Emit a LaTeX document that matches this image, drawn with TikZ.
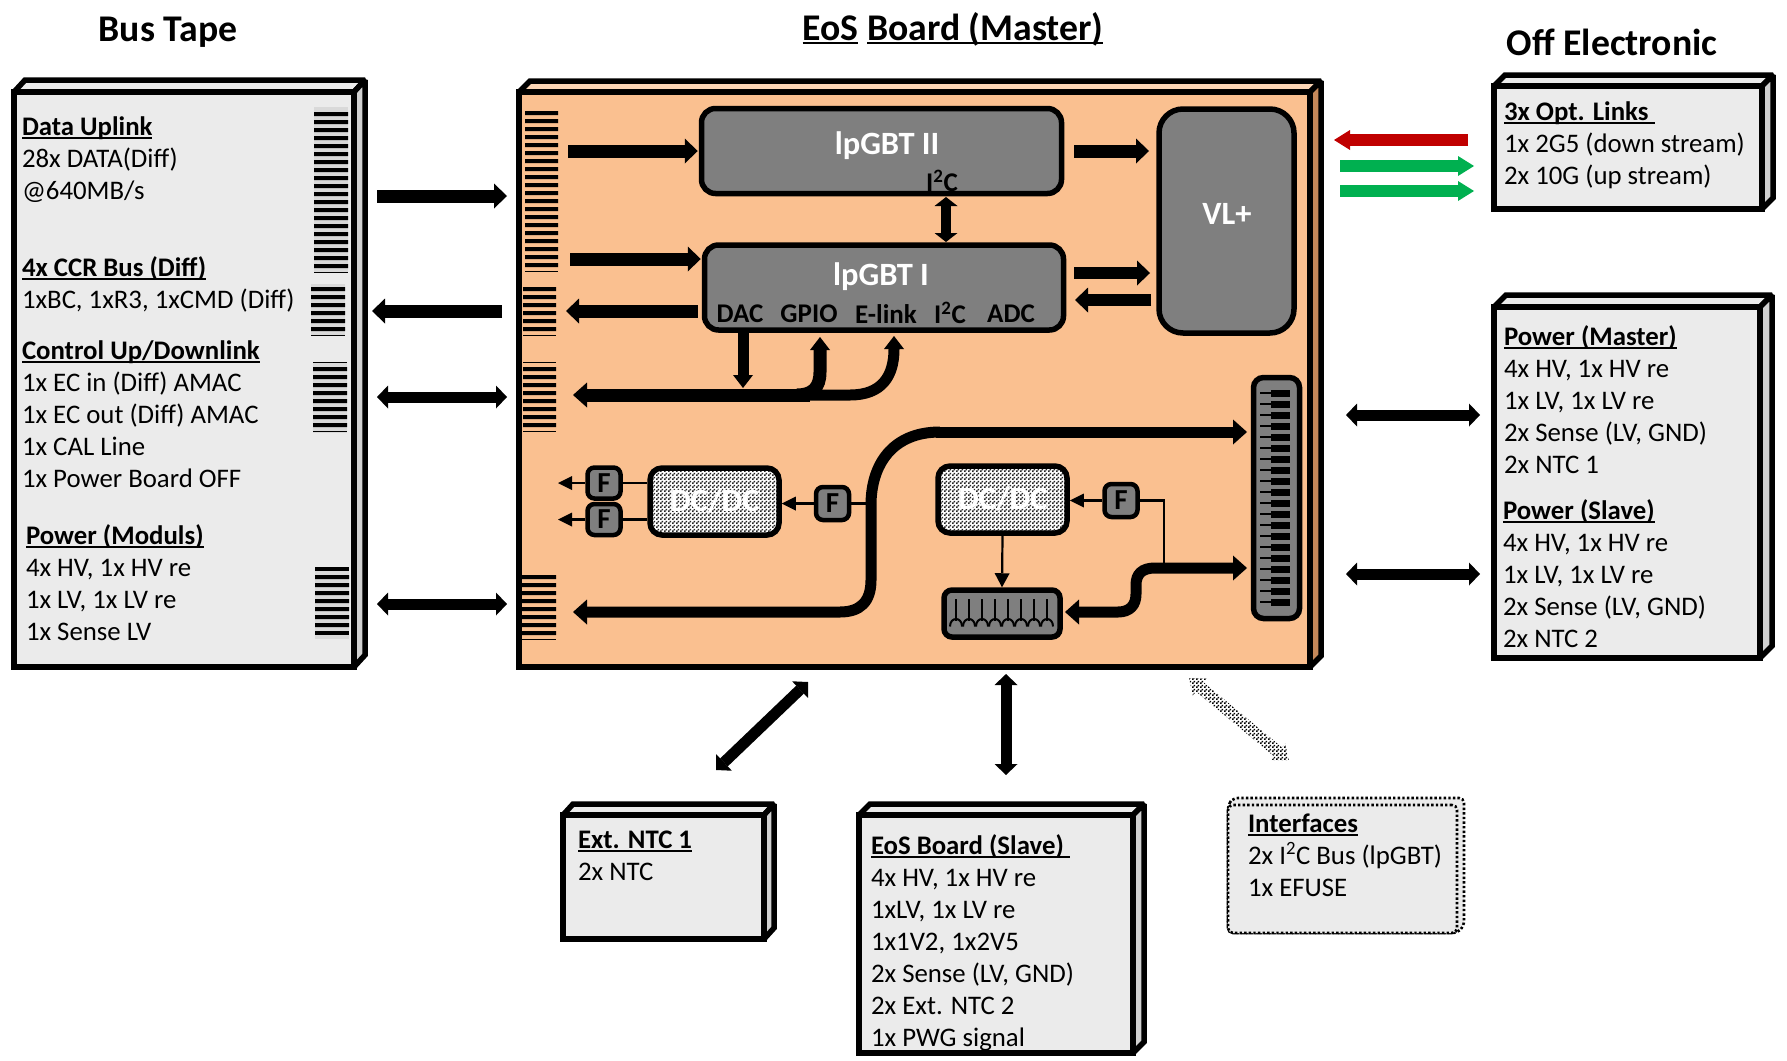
\documentclass[tikz,border=0pt]{standalone}
\usepackage{fontspec}
\setmainfont{Carlito}
\usetikzlibrary{arrows.meta,patterns,calc}
\definecolor{boxfill}{HTML}{EBEBEB}
\definecolor{boxside}{HTML}{D0D0D0}
\definecolor{boardfill}{HTML}{FAC090}
\definecolor{boardtop}{HTML}{FCD5B5}
\definecolor{boardside}{HTML}{C5885A}
\definecolor{chipgrey}{HTML}{7F7F7F}
\definecolor{combbg}{HTML}{D9D9D9}
\definecolor{redarrow}{HTML}{C00000}
\definecolor{greenarrow}{HTML}{00B050}
\pgfdeclarepatternformonly{fineChecker}{\pgfpointorigin}{\pgfqpoint{4pt}{4pt}}{\pgfqpoint{4pt}{4pt}}{%
  \pgfpathrectangle{\pgfpointorigin}{\pgfqpoint{2pt}{2pt}}%
  \pgfpathrectangle{\pgfqpoint{2pt}{2pt}}{\pgfqpoint{2pt}{2pt}}%
  \pgfusepath{fill}}
\newsavebox\hdbox
\newcommand\hd[1]{\sbox\hdbox{\bfseries #1}\rlap{\usebox\hdbox}\rule[-3.5pt]{\wd\hdbox}{1.9pt}}
\tikzset{
  face/.style={draw=black,line width=5.5pt,line join=miter,miter limit=2},
  txt/.style={inner sep=0pt,outer sep=0pt,anchor=north west,align=left,font=\fontsize{26.8}{32}\selectfont},
  gblock/.style={draw=black,line width=5.5pt,fill=chipgrey,inner sep=0pt,rounded corners=#1},
  gblock/.default=14pt,
  checkblock/.style={draw=black,line width=5.5pt,inner sep=0pt,rounded corners=12pt,
     preaction={fill=white},pattern=fineChecker,pattern color=black!85},
  fuse/.style={gblock=7pt,line width=4.5pt,font=\fontsize{29}{29}\bfseries\selectfont,text=black},
  wlabel/.style={inner sep=0pt,text=white,font=\fontsize{32.5}{34}\bfseries\selectfont},
  dcl/.style={inner sep=0pt,text=white,font=\fontsize{32.5}{34}\bfseries\selectfont},
  blabel/.style={inner sep=0pt,text=black,font=\fontsize{27}{28}\bfseries\selectfont},
  ttl/.style={inner sep=0pt,font=\fontsize{37.7}{40}\bfseries\selectfont},
  big/.style={line width=13pt,-{Triangle[length=13pt,width=25pt,line width=0pt]}},
  dbl/.style={line width=11pt,{Triangle[length=11pt,width=23pt,line width=0pt]}-{Triangle[length=11pt,width=23pt,line width=0pt]}},
  mid/.style={line width=11pt,-{Triangle[length=13pt,width=20pt,line width=0pt]}},
  thinar/.style={line width=2.2pt,-{Triangle[length=14pt,width=14pt,line width=0pt]}},
  thinln/.style={line width=2.2pt},
}
% name, x1,y1,x2,y2 (centre lines of stroke), dx, dy, front, side, top
\newcommand\threed[9]{%
  \path[face,fill=#9] (#2,#3) -- ({#2+#6},{#3-#7}) -- ({#4+#6},{#3-#7}) -- (#4,#3) -- cycle;
  \path[face,fill=#8] (#4,#3) -- ({#4+#6},{#3-#7}) -- ({#4+#6},{#5-#7}) -- (#4,#5) -- cycle;
  \node[face,fill=#1,inner sep=0pt,minimum width={#4-#2},minimum height={#5-#3},outer sep=0pt] (front#2) at ({(#2+#4)/2},{(#3+#5)/2}) {};
}
\newcommand\threedbox[7]{\threed{boxfill}{#2}{#3}{#4}{#5}{#6}{#7}{boxside}{boxfill}\path (front#2) coordinate (#1);}
% comb of bars: x1,x2,first y,number
\newcommand\bars[4]{\fill[black] \foreach \i in {1,...,#4} {({#1},{#3+8*(\i-1)}) rectangle ({#2},{#3+8*(\i-1)+4})};
  \fill[black] ({#1},{#3+8*#4}) rectangle ({#2},{#3+8*#4+1});}
\newcommand\tblock[4]{\node[txt] (#1) at (#2,{#3-13.4}) {\strut #4};}
\begin{document}
\begin{tikzpicture}[x=1pt,y=-1pt]
\useasboundingbox (0,0) rectangle (1787,1060);

% ---------- titles
\node[ttl] (t1) at (168,32) {Bus Tape};
\node[ttl] (t2) at (953,29) {\hd{EoS} \hd{Board (Master)}};
\node[ttl] (t3) at (1612,42) {Off Electronic};

% ---------- outer boxes
\threedbox{bustape}{14}{92}{354}{667}{11}{12}
\threedbox{opt}{1494}{86}{1762}{209}{11}{11}
\threedbox{power}{1494}{307}{1760}{658}{12}{12}
\threedbox{ntc}{563}{815}{764}{939}{10}{11}
\threedbox{slave}{859}{815}{1133}{1053}{11}{11}

% interfaces (dotted)
\path[draw=black,line width=2.6pt,dash pattern=on 2.4pt off 2.2pt,fill=boxfill,rounded corners=5pt]
  (1228,805) -- (1233,798) -- (1464,798) -- (1464,926) -- (1457,933) -- (1228,933) -- cycle;
\node[draw=black,line width=2.6pt,dash pattern=on 2.4pt off 2.2pt,fill=boxfill,rounded corners=5pt,inner sep=0pt,minimum width=229pt,minimum height=128pt] (ifc) at (1342.5,869) {};

% ---------- board
\threed{boardfill}{519}{92}{1310}{667}{11}{11}{boardside}{boardtop}
\path (front519) coordinate (boardc);

% ---------- comb contacts
\fill[combbg] (314,107) rectangle (348,272);
\fill[combbg] (311,284) rectangle (345,336);
\fill[combbg] (313,362) rectangle (347,433);
\fill[combbg] (315,567) rectangle (349,639);
\bars{314}{348}{112}{20}
\bars{311}{345}{287}{6}
\fill[black] (313,362) rectangle (347,363);
\bars{313}{347}{367}{8}
\fill[black] (315,567) rectangle (349,571);
\bars{315}{349}{575}{7}
\fill[black] (315,631) rectangle (349,635);
\bars{525}{558}{111}{20}
\bars{523}{556}{287}{6}
\fill[black] (523,362) rectangle (556,363);
\bars{523}{556}{367}{8}
\bars{522}{556}{575}{8}

% ---------- chips
\node[gblock,minimum width=360pt,minimum height=85pt] (lpb) at (881.5,151) {};
\node[gblock,minimum width=359pt,minimum height=85pt] (lpa) at (884,287.5) {};
\node[gblock=24pt,minimum width=135pt,minimum height=224pt] (vl) at (1226.5,221) {};
\node[wlabel] (lpbt) at (887,146) {lpGBT II};
\node[wlabel] (lpat) at (881,277) {lpGBT I};
\node[wlabel] (vlt) at (1227,214) {VL+};
\node[blabel] (i2cu) at (942,181) {I\textsuperscript{2}C};
\node[blabel] (dac) at (740,314) {DAC};
\node[blabel] (gpio) at (809,314) {GPIO};
\node[blabel] (elink) at (886,314) {E-link};
\node[blabel] (i2cl) at (950,313) {I\textsuperscript{2}C};
\node[blabel] (adc) at (1011,314) {ADC};

% ---------- coordinates for free ends
\coordinate (outA1) at (377,196); \coordinate (outA2) at (507,196);
\coordinate (outB1) at (502,311); \coordinate (outB2) at (372,311);
\coordinate (outC1) at (377,397); \coordinate (outC2) at (507,397);
\coordinate (outD1) at (377,604); \coordinate (outD2) at (507,604);
\coordinate (inA) at (568,151); \coordinate (inB) at (570,259); \coordinate (inC) at (566,311);
\coordinate (vlA) at (1149,151); \coordinate (vlB) at (1074,151);
\coordinate (vlC) at (1074,273); \coordinate (vlD) at (1150,273);
\coordinate (vlE) at (1151,300); \coordinate (vlF) at (1075,300);

% ---------- board arrows at chips
\draw[big] (inA) -- ($(lpb.west |- inA)+(-1,0)$);
\draw[big] (inB) -- ($(lpa.west |- inB)+(-1,0)$);
\draw[big] ($(lpa.west |- inC)+(-4,0)$) -- (inC);
\draw[big] (vlB) -- (vlA);
\draw[big,line width=12pt] (vlC) -- (vlD);
\draw[big,line width=12pt] (vlE) -- (vlF);
\draw[dbl,line width=10pt,{Triangle[length=9pt,width=23pt,line width=0pt]}-{Triangle[length=9pt,width=23pt,line width=0pt]}] (946,197) coordinate (i2cA) -- (946,242) coordinate (i2cB);

% outer arrows
\draw[big] (outA1) -- (outA2);
\draw[big] (outB1) -- (outB2);
\draw[dbl] (outC1) -- (outC2);
\draw[dbl] (outD1) -- (outD2);
\coordinate (rA1) at (1346,415); \coordinate (rA2) at (1480,415);
\coordinate (rB1) at (1346,574); \coordinate (rB2) at (1480,574);
\draw[dbl] (rA1) -- (rA2);
\draw[dbl] (rB1) -- (rB2);
\coordinate (botA1) at (808,682); \coordinate (botA2) at (716,770);
\coordinate (botB1) at (1006,674); \coordinate (botB2) at (1006,775);
\draw[dbl] (botA1) -- (botA2);
\draw[dbl] (botB1) -- (botB2);

% dithered diagonal arrow
\path[pattern=fineChecker,pattern color=black]
  (1189,678) -- (1206.8,678.5) -- (1203.6,682.4) -- (1282,747.4) -- (1285.2,743.5) -- (1289,761)
  -- (1271.2,760.5) -- (1274.4,756.6) -- (1196,691.6) -- (1192.8,695.5) -- cycle;

% optical arrows
\coordinate (optA1) at (1468,140); \coordinate (optA2) at (1334,140);
\coordinate (optB1) at (1340,166); \coordinate (optB2) at (1474,166);
\coordinate (optC1) at (1340,191); \coordinate (optC2) at (1474,191);
\draw[redarrow,line width=12.5pt,-{Triangle[length=16pt,width=20pt,line width=0pt]}] (optA1) -- (optA2);
\draw[greenarrow,line width=12.5pt,-{Triangle[length=16pt,width=20pt,line width=0pt]}] (optB1) -- (optB2);
\draw[greenarrow,line width=12.5pt,-{Triangle[length=16pt,width=20pt,line width=0pt]}] (optC1) -- (optC2);

% ---------- control bus
\coordinate (busTip) at (573,395);
\draw[line width=13pt,-{Triangle[length=14pt,width=25pt,line width=0pt]}] (810,395) -- (busTip);
\draw[mid] (lpa.south -| 743,0) ++(0,-3) -- (743,388) coordinate (dacTip);
\draw[mid,line width=13pt] (797,395) .. controls (812,395) and (820,388) .. (820,372) -- (820,337) coordinate (gpioTip);
\draw[mid] (805,395) -- (850,395) .. controls (882,395) and (894,376) .. (894,336) coordinate (elinkTip);

% ---------- power lines
\node[gblock=10pt,minimum width=46pt,minimum height=241pt] (conn) at (1276.5,498) {};
\foreach \k in {0,...,19}{
  \fill[black] (1271,{393+11*\k-3.5}) rectangle (1290,{393+11*\k+3.5});
  \draw[line width=1.8pt] (1260,{393+11*\k}) -- (1271,{393+11*\k});
}
\coordinate (pwrTipA) at (1247,432);
\coordinate (pwrTipB) at (573,612);
\draw[line width=11pt,-{Triangle[length=14pt,width=25pt,line width=0pt]}] (936,432) -- (pwrTipA);
\draw[line width=11pt,-{Triangle[length=14pt,width=25pt,line width=0pt]}]
  (940,432) .. controls (892,432) and (871,465) .. (871,505) -- (871,580) .. controls (871,602) and (860,612) .. (840,612) -- (pwrTipB);
\coordinate (pwrTipC) at (1247,568);
\coordinate (pwrTipD) at (1065,612);
\draw[line width=11pt,{Triangle[length=14pt,width=25pt,line width=0pt]}-{Triangle[length=14pt,width=25pt,line width=0pt]}]
  (pwrTipD) -- (1118,612) .. controls (1130,612) and (1136,605) .. (1136,594) -- (1136,585) .. controls (1136,574) and (1142,568) .. (1155,568) -- (pwrTipC);

% ---------- DC/DC and fuses
\node[checkblock,minimum width=129pt,minimum height=67pt] (dcL) at (714.5,501.5) {};
\node[checkblock,minimum width=129pt,minimum height=67pt] (dcR) at (1002.5,499.5) {};
\node[dcl] (dcLt) at (715,501) {DC/DC};
\node[dcl] (dcRt) at (1003,499) {DC/DC};
\node[fuse,minimum width=33pt,minimum height=31pt] (fA) at (604,483) {F};
\node[fuse,minimum width=33pt,minimum height=31pt] (fB) at (604,519.5) {F};
\node[fuse,minimum width=33pt,minimum height=33pt] (fC) at (832.5,503.5) {F};
\node[fuse,minimum width=33pt,minimum height=33pt] (fD) at (1121,500.5) {F};
\coordinate (fAo) at (558,483); \coordinate (fBo) at (558,519.5);
\draw[thinar] (fA.west) -- (fAo);
\draw[thinar] (fB.west) -- (fBo);
\draw[thinln] (fA.east) -- (fA.east -| dcL.west);
\draw[thinln] (fB.east) -- (fB.east -| dcL.west);
\draw[thinar] (fC.west) -- (fC.west -| dcL.east);
\coordinate (busTap) at (867,503.5);
\draw[thinln] (fC.east) -- (busTap);
\draw[thinar] (fD.west) -- (fD.west -| dcR.east);
\coordinate (busTapB) at (1164,563);
\draw[thinln] (fD.east) -| (busTapB);

% ---------- fan-out connector
\node[gblock=8pt,minimum width=116pt,minimum height=47pt] (fan) at (1002,613.5) {};
\draw[line width=2.2pt,-{Triangle[length=14pt,width=15pt,line width=0pt]}] (dcR.south) -- (fan.north);
\foreach \k in {0,...,7}{
  \draw[line width=2pt] ({956+13*\k},599) -- ({956+13*\k},621);
  \draw[line width=2pt] ({950+13*\k},626.5) .. controls ({950+13*\k},616.5) and ({962+13*\k},616.5) .. ({962+13*\k},626.5);
}

% ---------- box texts
\tblock{tA}{22}{126}{\hd{Data Uplink}\\28x DATA(Diff)\\@640MB/s}
\tblock{tB}{22}{267}{\hd{4x CCR Bus (Diff)}\\1xBC, 1xR3, 1xCMD (Diff)}
\tblock{tC}{22}{350}{\hd{Control Up/Downlink}\\1x EC in (Diff) AMAC\\1x EC out (Diff) AMAC\\1x CAL Line\\1x Power Board OFF}
\tblock{tD}{26}{535}{\hd{Power (Moduls)}\\4x HV, 1x HV re\\1x LV, 1x LV re\\1x Sense LV}
\tblock{tE}{1504}{111}{\hd{3x Opt. Links~}\\1x 2G5 (down stream)\\2x 10G (up stream)}
\tblock{tF}{1504}{336}{\hd{Power (Master)}\\4x HV, 1x HV re\\1x LV, 1x LV re\\2x Sense (LV, GND)\\2x NTC 1}
\tblock{tG}{1503}{510}{\hd{Power (Slave)}\\4x HV, 1x HV re\\1x LV, 1x LV re\\2x Sense (LV, GND)\\2x NTC 2}
\tblock{tH}{578}{839}{\hd{Ext. NTC 1}\\2x NTC}
\tblock{tI}{871}{845}{\hd{EoS Board (Slave)~}\\4x HV, 1x HV re\\1xLV, 1x LV re\\1x1V2, 1x2V5\\2x Sense (LV, GND)\\2x Ext. NTC 2\\1x PWG signal}
\tblock{tJ}{1248}{823}{\hd{Interfaces}\\2x I\textsuperscript{2}C Bus (lpGBT)\\1x EFUSE}
\end{tikzpicture}
\end{document}
